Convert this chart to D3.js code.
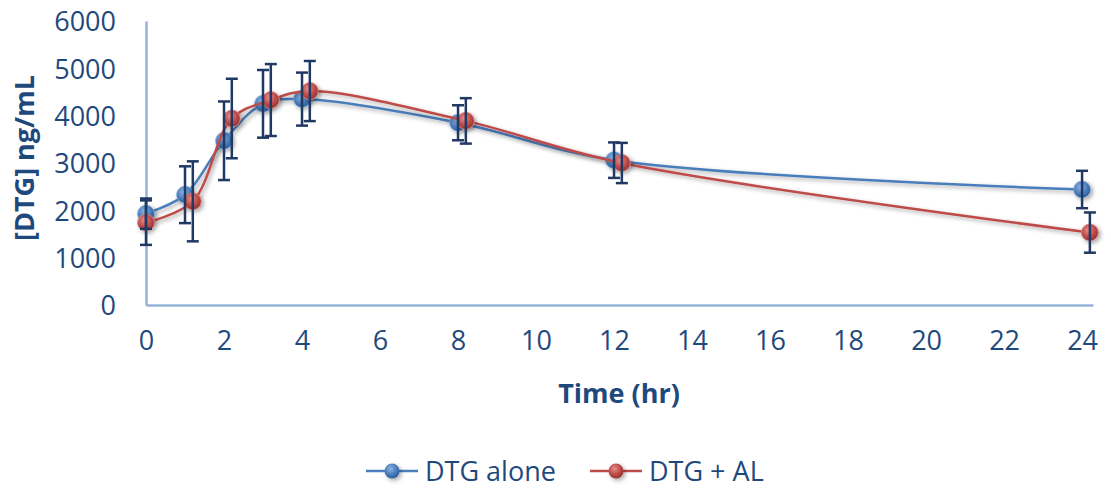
<!DOCTYPE html>
<html>
<head>
<meta charset="utf-8">
<script src="https://cdn.jsdelivr.net/npm/d3@7/dist/d3.min.js"></script>
<style>
  html, body { margin: 0; padding: 0; background: #fff; }
  svg text { font-family: 'Open Sans', 'Noto Sans', sans-serif; fill: #1F497D; }
</style>
</head>
<body>
<div id="chart"></div>
<script>
// DTG alone
const aloneTime = [0, 1, 2, 3, 4, 8, 12, 24];
const aloneMean = [1930, 2330, 3470, 4250, 4350, 3850, 3060, 2440];
const aloneErr  = [320, 600, 830, 715, 560, 370, 375, 395];

// DTG + AL (plotted slightly offset in time in the original)
const alTime = [0, 1.2, 2.2, 3.2, 4.2, 8.2, 12.2, 24.2];
const alMean = [1740, 2190, 3940, 4330, 4520, 3890, 3000, 1530];
const alErr  = [470, 845, 840, 760, 635, 480, 425, 425];

const xTicks = [0, 2, 4, 6, 8, 10, 12, 14, 16, 18, 20, 22, 24];
const yTicks = [0, 1000, 2000, 3000, 4000, 5000, 6000];

const series = [
  { name: 'DTG alone', color: '#4A7EBB', light: '#8DB3E2', dark: '#2C5D98', time: aloneTime, mean: aloneMean, err: aloneErr },
  { name: 'DTG + AL', color: '#BE4B48', light: '#E58C8A', dark: '#943634', time: alTime, mean: alMean, err: alErr }
];

const width = 1111, height = 490;
const plotLeft = 146, plotRight = 1093, plotTop = 21, plotBottom = 305;

const svg = d3.select('#chart').append('svg')
  .attr('width', width)
  .attr('height', height);

const defs = svg.append('defs');
const shadow = defs.append('filter').attr('id', 'shadow')
  .attr('x', '-50%').attr('y', '-50%').attr('width', '200%').attr('height', '200%');
shadow.append('feDropShadow')
  .attr('dx', 2).attr('dy', 2).attr('stdDeviation', 2)
  .attr('flood-color', '#000').attr('flood-opacity', 0.35);

series.forEach(function(s, i) {
  const g = defs.append('radialGradient').attr('id', 'grad' + i)
    .attr('cx', '40%').attr('cy', '35%').attr('r', '65%');
  g.append('stop').attr('offset', '0%').attr('stop-color', s.light);
  g.append('stop').attr('offset', '60%').attr('stop-color', s.color);
  g.append('stop').attr('offset', '100%').attr('stop-color', s.dark);
});

const x = d3.scaleLinear().domain([0, 24.28]).range([plotLeft, plotRight]);
const y = d3.scaleLinear().domain([0, 6000]).range([plotBottom, plotTop]);

// axes
const xAxis = svg.append('g')
  .attr('transform', `translate(0, ${plotBottom})`)
  .call(d3.axisBottom(x).tickValues(xTicks).tickSize(0).tickPadding(26));
const yAxis = svg.append('g')
  .attr('transform', `translate(${plotLeft}, 0)`)
  .call(d3.axisLeft(y).tickValues(yTicks).tickFormat(d3.format('d')).tickSize(0).tickPadding(30));

[xAxis, yAxis].forEach(function(a) {
  a.select('.domain').attr('stroke', '#95B3D7').attr('stroke-width', 2.5);
  a.selectAll('text')
    .attr('fill', '#1F497D')
    .style('font-size', '27px')
    .style('font-family', "'Open Sans', sans-serif");
});
yAxis.selectAll('text').attr('dy', '0.36em');

// axis titles
svg.append('text')
  .attr('x', 619).attr('y', 403)
  .attr('text-anchor', 'middle')
  .style('font-size', '27px').style('font-weight', 'bold')
  .text('Time (hr)');

svg.append('text')
  .attr('transform', 'translate(34, 158) rotate(-90)')
  .attr('text-anchor', 'middle')
  .style('font-size', '27px').style('font-weight', 'bold')
  .text('[DTG] ng/mL');

const line = d3.line()
  .x(function(d) { return x(d.t); })
  .y(function(d) { return y(d.v); })
  .curve(d3.curveCatmullRom.alpha(0.5));

const plot = svg.append('g');

series.forEach(function(s, i) {
  const pts = s.time.map(function(t, j) { return { t: t, v: s.mean[j], e: s.err[j] }; });
  const sg = plot.append('g');

  sg.append('path')
    .datum(pts)
    .attr('d', line)
    .attr('fill', 'none')
    .attr('stroke', s.color)
    .attr('stroke-width', 2.5)
    .attr('filter', 'url(#shadow)');

  sg.selectAll('circle')
    .data(pts)
    .enter().append('circle')
    .attr('cx', function(d) { return x(d.t); })
    .attr('cy', function(d) { return y(d.v); })
    .attr('r', 8.5)
    .attr('fill', 'url(#grad' + i + ')')
    .attr('stroke', s.light)
    .attr('stroke-width', 0.8)
    .attr('filter', 'url(#shadow)');
});

// error bars on top
series.forEach(function(s) {
  const pts = s.time.map(function(t, j) { return { t: t, v: s.mean[j], e: s.err[j] }; });
  const eg = plot.append('g')
    .attr('stroke', '#1F3864')
    .attr('stroke-width', 2.5)
    .attr('fill', 'none');

  const bars = eg.selectAll('g')
    .data(pts)
    .enter().append('g');

  bars.append('line')
    .attr('x1', function(d) { return x(d.t); })
    .attr('x2', function(d) { return x(d.t); })
    .attr('y1', function(d) { return y(d.v + d.e); })
    .attr('y2', function(d) { return y(d.v - d.e); });

  [1, -1].forEach(function(sign) {
    bars.append('line')
      .attr('x1', function(d) { return x(d.t) - 6; })
      .attr('x2', function(d) { return x(d.t) + 6; })
      .attr('y1', function(d) { return y(d.v + sign * d.e); })
      .attr('y2', function(d) { return y(d.v + sign * d.e); });
  });
});

// legend
const legend = svg.append('g').attr('transform', 'translate(0, 471)');
const legendX = [366, 590];
series.forEach(function(s, i) {
  const lg = legend.append('g').attr('transform', `translate(${legendX[i]}, 0)`);
  lg.append('line')
    .attr('x1', 0).attr('x2', 52)
    .attr('stroke', s.color).attr('stroke-width', 2.5);
  lg.append('circle')
    .attr('cx', 26).attr('r', 7.5)
    .attr('fill', 'url(#grad' + i + ')')
    .attr('filter', 'url(#shadow)');
  lg.append('text')
    .attr('x', 59).attr('dy', '0.36em')
    .style('font-size', '27px')
    .text(s.name);
});
</script>
</body>
</html>
